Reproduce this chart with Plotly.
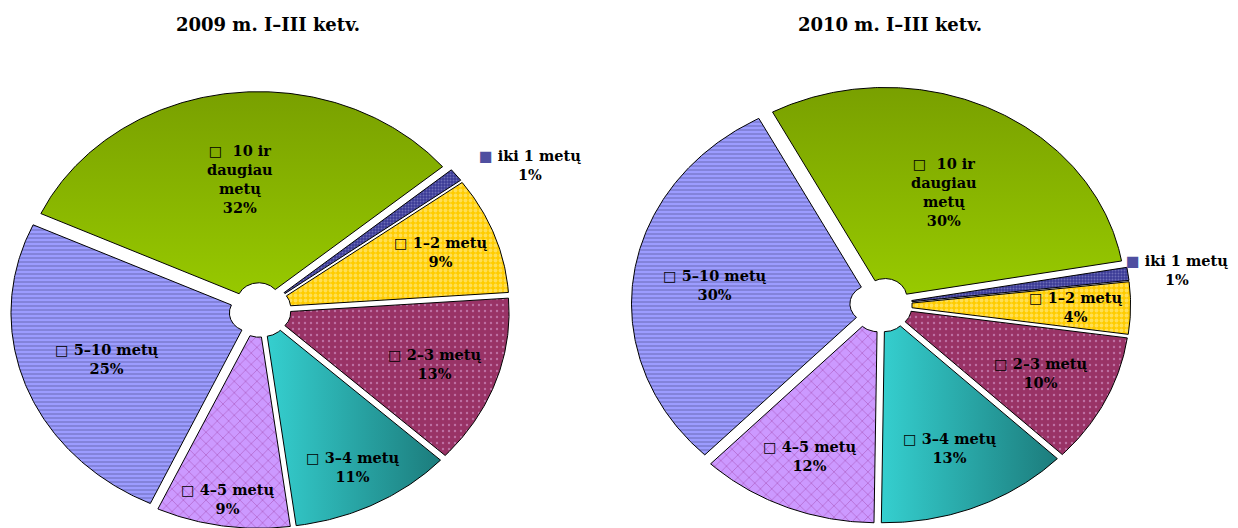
import textwrap
import numpy as np
import plotly.graph_objects as go

# ---------------- data ----------------
CATEGORIES = ["iki 1 metų", "1–2 metų", "2–3 metų", "3–4 metų",
              "4–5 metų", "5–10 metų", "10 ir daugiau metų"]
VALUES_2009 = [1, 9, 13, 11, 9, 25, 32]
VALUES_2010 = [1, 4, 10, 13, 12, 30, 30]
TITLES = ["2009 m. I–III ketv.", "2010 m. I–III ketv."]

# ---------------- styles / geometry ----------------
PAGE_MARGIN = 8                   # default body margin of the html page
W, H = 1238 - PAGE_MARGIN, 528 - PAGE_MARGIN
SX, SY = 240.0, 210.0             # px per unit (the picture is stretched horizontally)
CENTERS_PX = [(260, 310), (881, 305)]   # in page pixels
START_ANGLE = [40.0, 10.0]        # degrees, counter-clockwise from +x, slices go clockwise
R_OUT, R_IN, EXPLODE = 1.0, 0.09, 0.04
LABEL_R = [[1.32, 0.80, 0.77, 0.84, 0.91, 0.68, 0.63],
           [1.245, 0.81, 0.74, 0.74, 0.78, 0.70, 0.60]]
LABEL_DA = [[-6.7, 0, 0, 0, 0, 0, 0],
            [-0.5, 0, 0, 0, 0, 0, 0]]
OUTSIDE = [True, False, False, False, False, False, False]
TITLE_X_PX = [268, 890]
TITLE_Y_PX = 25

FONT = "DejaVu Serif"
KEY_COLOR = "#4F4FA0"

STYLES = [
    dict(kind="pattern", pattern=dict(shape=".", bgcolor="#3A3A96", fgcolor="#A0A0D8", size=3, solidity=0.35)),
    dict(kind="pattern", pattern=dict(shape=".", bgcolor="#FFCC00", fgcolor="#FFF2A8", size=5, solidity=0.45)),
    dict(kind="pattern", pattern=dict(shape=".", bgcolor="#993366", fgcolor="#E2AEE2", size=6, solidity=0.12)),
    dict(kind="hgrad", colorscale=[[0, "#35CFCF"], [1, "#1C7C7C"]]),
    dict(kind="pattern", pattern=dict(shape="x", bgcolor="#CC99FF", fgcolor="#993399", size=8, solidity=0.18)),
    dict(kind="pattern", pattern=dict(shape="-", bgcolor="#9C9CFF", fgcolor="#6A6AB8", size=4, solidity=0.5)),
    dict(kind="vgrad", colorscale=[[0, "#99CC00"], [1, "#79A000"]]),
]


def wedge(a0, a1):
    b = np.deg2rad((a0 + a1) / 2.0)
    ox, oy = EXPLODE * np.cos(b), EXPLODE * np.sin(b)
    n = max(int(abs(a0 - a1) * 2), 6)
    t = np.deg2rad(np.linspace(a0, a1, n))
    ti = t[::-1]
    xs = np.concatenate([R_OUT * np.cos(t), R_IN * np.cos(ti)]) + ox
    ys = np.concatenate([R_OUT * np.sin(t), R_IN * np.sin(ti)]) + oy
    xs = np.append(xs, xs[0])
    ys = np.append(ys, ys[0])
    return xs, ys


def label_text(cat, val, outside):
    if len(cat) > 12:
        lines = textwrap.wrap(cat, 7)
    else:
        lines = [cat]
    if outside:
        key = f"<span style='color:{KEY_COLOR}'>■</span> "
    else:
        key = "□  " if len(lines) > 1 else "□ "
    lines[0] = key + lines[0]
    return "<br>".join(lines + [f"{val}%"])


fig = go.Figure()
annotations = []

for ci, values in enumerate([VALUES_2009, VALUES_2010]):
    xa = "x" if ci == 0 else "x2"
    ya = "y" if ci == 0 else "y2"
    total = float(sum(values))
    a = START_ANGLE[ci]
    for si, (cat, val) in enumerate(zip(CATEGORIES, values)):
        span = 360.0 * val / total
        a0, a1 = a, a - span
        a = a1
        xs, ys = wedge(a0, a1)
        st = STYLES[si]
        kw = dict(x=xs, y=ys, mode="lines", fill="toself",
                  line=dict(color="#000000", width=1),
                  xaxis=xa, yaxis=ya, hoverinfo="text",
                  hovertext=f"{cat}: {val}%", showlegend=False, name=cat)
        if st["kind"] == "pattern":
            kw["fillcolor"] = st["pattern"]["bgcolor"]
            kw["fillpattern"] = st["pattern"]
        elif st["kind"] == "hgrad":
            kw["fillgradient"] = dict(type="horizontal", colorscale=st["colorscale"],
                                      start=float(xs.min()), stop=float(xs.max()))
        else:
            kw["fillgradient"] = dict(type="vertical", colorscale=st["colorscale"],
                                      start=0.0, stop=float(ys.max()))
        fig.add_trace(go.Scatter(**kw))

        bis = np.deg2rad((a0 + a1) / 2.0 + LABEL_DA[ci][si])
        r = LABEL_R[ci][si]
        annotations.append(dict(
            x=r * np.cos(bis), y=r * np.sin(bis), xref=xa, yref=ya,
            text=label_text(cat, val, OUTSIDE[si]), showarrow=False,
            xanchor="center", yanchor="middle", align="center",
            font=dict(family=FONT, size=14.5, color="#000000", weight="bold")))

# titles
for ci, t in enumerate(TITLES):
    annotations.append(dict(
        x=(TITLE_X_PX[ci] - PAGE_MARGIN) / W, y=1 - (TITLE_Y_PX - PAGE_MARGIN) / H,
        xref="paper", yref="paper",
        text=t, showarrow=False, xanchor="center", yanchor="middle",
        font=dict(family=FONT, size=18, color="#000000", weight="bold")))

# two sub-areas, each with its own x/y axes
split_px = 619 - PAGE_MARGIN
DOMAINS = [(0.0, split_px / W), (split_px / W, 1.0)]
layout_axes = {}
for ci in range(2):
    cx, cy = CENTERS_PX[ci]
    cx -= PAGE_MARGIN
    cy -= PAGE_MARGIN
    d0, d1 = DOMAINS[ci]
    xr = [(d0 * W - cx) / SX, (d1 * W - cx) / SX]
    yr = [-(H - cy) / SY, cy / SY]
    sfx = "" if ci == 0 else "2"
    layout_axes["xaxis" + sfx] = dict(domain=[d0, d1], range=xr, visible=False,
                                      fixedrange=True, anchor="y" + sfx)
    layout_axes["yaxis" + sfx] = dict(domain=[0, 1], range=yr, visible=False,
                                      fixedrange=True, anchor="x" + sfx)

fig.update_layout(
    width=W, height=H,
    margin=dict(l=0, r=0, t=0, b=0),
    paper_bgcolor="white", plot_bgcolor="white",
    showlegend=False,
    annotations=annotations,
    **layout_axes,
)

fig.write_html("out.html")
